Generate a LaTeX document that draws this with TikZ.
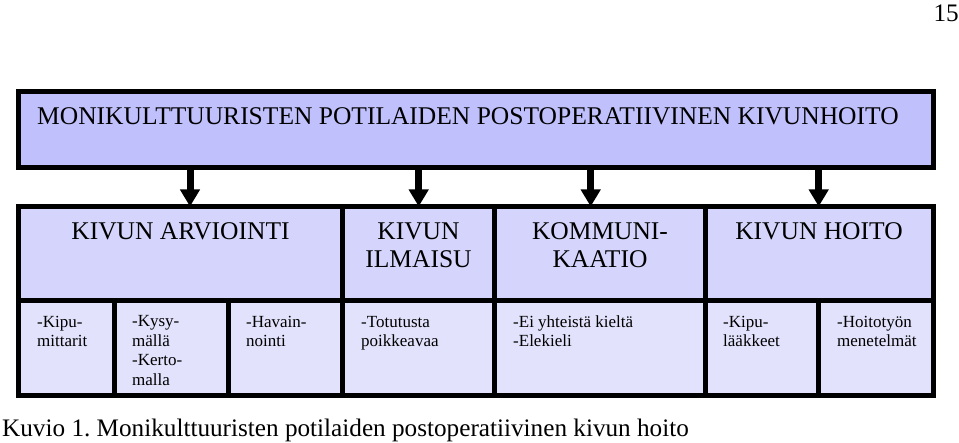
\documentclass[tikz,border=0pt]{standalone}
\usepackage{fontspec}
\setmainfont{Liberation Serif}
\usetikzlibrary{arrows.meta}
\definecolor{fillA}{RGB}{192,192,252}
\definecolor{fillB}{RGB}{212,212,252}
\definecolor{fillC}{RGB}{226,226,252}
\begin{document}
\frenchspacing
\begin{tikzpicture}[x=1pt,y=-1pt,
  cell/.style={draw=black, line width=5pt, inner sep=0pt, outer sep=0pt,
    anchor=north west, line join=miter},
  topbox/.style={cell, fill=fillA},
  midbox/.style={cell, fill=fillB},
  lowbox/.style={cell, fill=fillC},
  bigtxt/.style={inner sep=0pt, font=\fontsize{25.5}{28}\selectfont, align=center},
  captxt/.style={inner sep=0pt, font=\fontsize{25.2}{28}\selectfont},
  smalltxt/.style={inner sep=0pt, font=\fontsize{17}{19.5}\selectfont, align=left, anchor=base west},
  arr/.style={line width=7pt, -{Triangle[width=19pt,length=17pt]}}]
\useasboundingbox (0,0) rectangle (959,443);
% boxes
\node[topbox, minimum width=914.5pt, minimum height=76pt] (top) at (18.5,91.5) {};
\node[midbox, minimum width=324pt, minimum height=94pt] (arv) at (18.5,206.5) {};
\node[midbox, minimum width=152pt, minimum height=94pt] (ilm) at (342.5,206.5) {};
\node[midbox, minimum width=210.5pt, minimum height=94pt] (kom) at (494.5,206.5) {};
\node[midbox, minimum width=228pt, minimum height=94pt] (hoi) at (705,206.5) {};
\node[lowbox, minimum width=95.5pt, minimum height=95.5pt] (c1) at (18.5,300.5) {};
\node[lowbox, minimum width=114.5pt, minimum height=95.5pt] (c2) at (114,300.5) {};
\node[lowbox, minimum width=114pt, minimum height=95.5pt] (c3) at (228.5,300.5) {};
\node[lowbox, minimum width=152pt, minimum height=95.5pt] (c4) at (342.5,300.5) {};
\node[lowbox, minimum width=210.5pt, minimum height=95.5pt] (c5) at (494.5,300.5) {};
\node[lowbox, minimum width=113.5pt, minimum height=95.5pt] (c6) at (705,300.5) {};
\node[lowbox, minimum width=114.5pt, minimum height=95.5pt] (c7) at (818.5,300.5) {};
% texts (base anchor = baseline of the last line)
\node[bigtxt, anchor=base west] (ttl) at (37,125) {MONIKULTTUURISTEN POTILAIDEN POSTOPERATIIVINEN KIVUNHOITO};
\node[bigtxt, anchor=base] (tarv) at (180.5,240) {KIVUN ARVIOINTI};
\node[bigtxt, anchor=base] (tilm) at (418.5,268) {KIVUN\\ILMAISU};
\node[bigtxt, anchor=base] (tkom) at (600,268) {KOMMUNI-\\KAATIO};
\node[bigtxt, anchor=base] (thoi) at (819,240) {KIVUN HOITO};
\node[smalltxt] (t1) at (37,347) {-Kipu-\\mittarit};
\node[smalltxt] (t2) at (132,385.5) {-Kysy-\\mällä\\-Kerto-\\malla};
\node[smalltxt] (t3) at (246,347) {-Havain-\\nointi};
\node[smalltxt] (t4) at (361,347) {-Totutusta\\poikkeavaa};
\node[smalltxt] (t5) at (513,347) {-Ei yhteistä kieltä\\-Elekieli};
\node[smalltxt] (t6) at (723,347) {-Kipu-\\lääkkeet};
\node[smalltxt] (t7) at (837,347) {-Hoitotyön\\menetelmät};
\node[captxt, anchor=base west] (cap) at (2,437) {Kuvio 1. Monikulttuuristen potilaiden postoperatiivinen kivun hoito};
\node[captxt, anchor=base east] (pg) at (959,22) {15};
% arrows
\coordinate (x1) at (190,0);
\coordinate (x2) at (418.7,0);
\coordinate (x3) at (590.7,0);
\coordinate (x4) at (818.7,0);
\draw[arr] (top.south -| x1) -- (arv.north -| x1);
\draw[arr] (top.south -| x2) -- (ilm.north -| x2);
\draw[arr] (top.south -| x3) -- (kom.north -| x3);
\draw[arr] (top.south -| x4) -- (hoi.north -| x4);
\end{tikzpicture}
\end{document}
